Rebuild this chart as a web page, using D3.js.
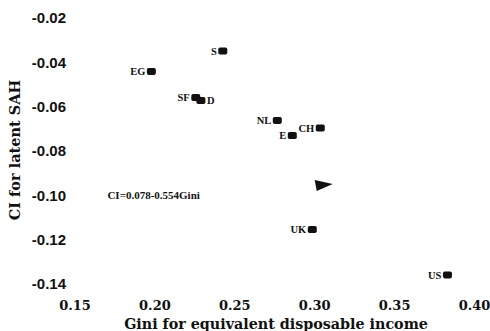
<!DOCTYPE html>
<html>
<head>
<meta charset="utf-8">
<script src="https://cdn.jsdelivr.net/npm/d3@7"></script>
<style>
  body { margin: 0; background: white; }
  svg { display: block; }
</style>
</head>
<body>
<svg id="chart" width="490" height="331"></svg>
<script>
// countries, Gini and concentration index
const countries = ['S', 'EG', 'SF', 'D', 'NL', 'CH', 'E', 'UK', 'US'];
const giniValues = [0.2428, 0.1981, 0.2259, 0.2291, 0.2769, 0.3038, 0.2863, 0.2988, 0.3834];
const ciValues = [-0.0349, -0.0441, -0.0559, -0.0572, -0.0662, -0.0696, -0.0730, -0.1154, -0.1359];
// label goes to the right of the marker for these
const rightLabels = ['D'];

// the odd triangle marker
const trianglePoint = [0.3047, -0.0956];

const xTicks = [0.15, 0.20, 0.25, 0.30, 0.35, 0.40];
const yTicks = [-0.02, -0.04, -0.06, -0.08, -0.10, -0.12, -0.14];
const equation = 'CI=0.078-0.554Gini';
const equationPos = [0.1706, -0.10];

const svg = d3.select('#chart');

const x = d3.scaleLinear().domain([0.15, 0.40]).range([74.5, 474]);
const y = d3.scaleLinear().domain([-0.02, -0.14]).range([18, 284]);

const serif = '"DejaVu Serif", serif';

// axes, no lines, only labels
const xAxis = svg.append('g')
  .attr('transform', 'translate(0,292)')
  .call(d3.axisBottom(x).tickValues(xTicks).tickSize(0).tickPadding(9).tickFormat(d3.format('.2f')));
xAxis.select('.domain').remove();
xAxis.selectAll('text')
  .attr('font-family', serif)
  .attr('font-weight', 'bold')
  .attr('font-size', 13)
  .attr('fill', '#111');

const yAxis = svg.append('g')
  .attr('transform', 'translate(70,0)')
  .call(d3.axisLeft(y).tickValues(yTicks).tickSize(0).tickPadding(4).tickFormat(d3.format('.2f')));
yAxis.select('.domain').remove();
yAxis.selectAll('text')
  .attr('font-family', '"Liberation Sans", Arial, sans-serif')
  .attr('font-weight', 'bold')
  .attr('font-size', 15)
  .attr('fill', '#111')
  .text((d) => d3.format('.2f')(d).replace('−', '-'));

// axis titles
svg.append('text')
  .attr('x', 276)
  .attr('y', 329)
  .attr('text-anchor', 'middle')
  .attr('font-family', serif)
  .attr('font-weight', 'bold')
  .attr('font-size', 14.3)
  .attr('fill', '#111')
  .text('Gini for equivalent disposable income');

svg.append('text')
  .attr('transform', 'translate(20,150) rotate(-90)')
  .attr('text-anchor', 'middle')
  .attr('font-family', serif)
  .attr('font-weight', 'bold')
  .attr('font-size', 14.5)
  .attr('fill', '#111')
  .text('CI for latent SAH');

// points
const points = countries.map((c, i) => ({ name: c, gini: giniValues[i], ci: ciValues[i] }));

svg.selectAll('.pt')
  .data(points)
  .enter().append('rect')
  .attr('class', 'pt')
  .attr('x', (d) => x(d.gini) - 4.5)
  .attr('y', (d) => y(d.ci) - 3.5)
  .attr('width', 9)
  .attr('height', 7)
  .attr('rx', 1.8)
  .attr('fill', '#111');

svg.selectAll('.lbl')
  .data(points)
  .enter().append('text')
  .attr('class', 'lbl')
  .attr('x', (d) => rightLabels.includes(d.name) ? x(d.gini) + 6 : x(d.gini) - 6)
  .attr('y', (d) => y(d.ci))
  .attr('dy', '0.35em')
  .attr('text-anchor', (d) => rightLabels.includes(d.name) ? 'start' : 'end')
  .attr('font-family', '"Liberation Serif", "Times New Roman", serif')
  .attr('font-weight', 'bold')
  .attr('font-size', 10.5)
  .attr('fill', '#111')
  .text((d) => d.name);

// triangle, pointing right
const tx = x(trianglePoint[0]);
const ty = y(trianglePoint[1]);
svg.append('path')
  .attr('d', d3.line()([[tx - 7, ty - 5.5], [tx + 11, ty - 1.5], [tx - 5, ty + 5.5]]) + 'Z')
  .attr('fill', '#111');

// regression equation
svg.append('text')
  .attr('x', x(equationPos[0]))
  .attr('y', y(equationPos[1]))
  .attr('dy', '0.35em')
  .attr('font-family', '"Liberation Serif", "Times New Roman", serif')
  .attr('font-weight', 'bold')
  .attr('font-size', 11)
  .attr('fill', '#111')
  .text(equation);
</script>
</body>
</html>
